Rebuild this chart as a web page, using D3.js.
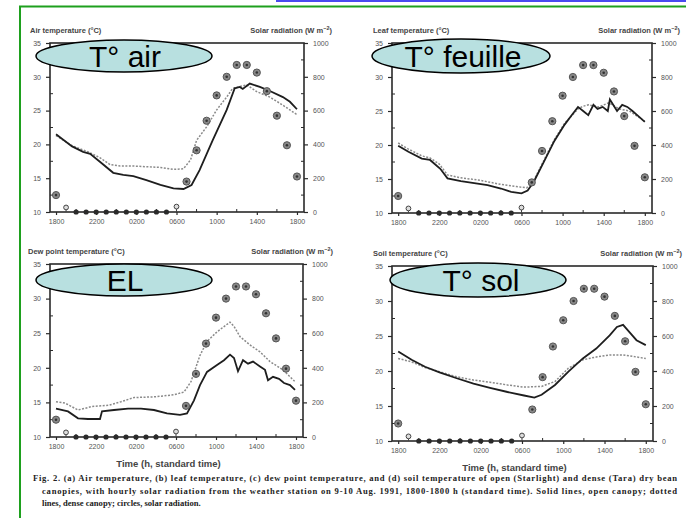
<!DOCTYPE html>
<html><head><meta charset="utf-8">
<script src="https://cdn.jsdelivr.net/npm/d3@7"></script>
<style>body{margin:0;background:#fff;}svg{display:block;}</style>
</head><body>
<svg id="c" width="686" height="518"></svg>
<script>
// ---------- DATA ----------
const xTickHours = [18, 22, 26, 30, 34, 38, 42];
const xTickLabels = ["1800", "2200", "0200", "0600", "1000", "1400", "1800"];
const tempTicks = [10, 15, 20, 25, 30, 35];
const radTicks = [0, 200, 400, 600, 800, 1000];
const solarHours = [18,19,20,21,22,23,24,25,26,27,28,29,30,31,32,33,34,35,36,37,38,39,40,41,42];
const solarValues = [100,15,0,0,0,0,0,0,0,0,0,0,20,180,365,540,690,800,870,870,825,715,570,395,210];

const airOpen = [[18,21.5],[19.6,19.7],[20.7,18.9],[21.4,18.6],[22.4,17.4],[23.7,15.8],[24.7,15.5],[25.7,15.3],[27,14.7],[28.4,14.0],[29.7,13.5],[30.7,13.4],[31.5,14.0],[32.3,16.2],[33.6,20.6],[35,25.1],[35.8,28.3],[36.3,28.5],[36.6,28.2],[37.3,29.0],[38.3,28.5],[39.3,27.9],[40.6,27.0],[41.3,26.3],[42,25.2]];
const airDense = [[18,21.3],[19.6,19.8],[21.2,18.9],[22.4,18.0],[23.4,17.0],[24.4,16.8],[25.7,16.8],[27,16.7],[28.4,16.6],[29.7,16.3],[30.7,16.4],[31.4,17.7],[32,20.6],[33,22.6],[34,25.1],[35,27.0],[35.6,28.3],[37,28.8],[38,27.8],[39.3,27.0],[40.6,25.8],[42,24.4]];
const leafOpen = [[18,19.9],[19,19.0],[20.3,18.0],[21.1,17.8],[22.1,16.5],[22.8,15.1],[24.1,14.7],[25.4,14.4],[26.7,14.1],[28,13.6],[29,13.1],[30,12.9],[30.6,13.3],[31.2,14.6],[32.2,17.6],[33.2,20.6],[34.2,23.0],[34.9,24.4],[35.5,25.6],[36,25.0],[36.5,24.4],[37,25.9],[37.4,25.3],[37.9,25.6],[38.4,25.0],[38.6,26.7],[39.3,25.0],[39.8,25.9],[40.3,25.6],[40.8,25.0],[41.4,24.2],[42,23.4]];
const leafDense = [[18,20.3],[19,19.4],[20.3,18.4],[21.1,18.1],[22,17.2],[22.8,15.6],[24,15.2],[26,14.8],[28,14.2],[29.5,13.9],[30.5,13.7],[31.2,14.8],[32.2,17.8],[33.2,20.8],[34.2,23.2],[35.5,25.3],[36,25.7],[36.5,25.9],[37.5,25.6],[38.5,26.2],[39.5,25.3],[40.5,25.0],[41.5,24.0],[42,23.5]];
const dewOpen = [[18,14.1],[19.2,13.7],[20.2,12.7],[21.2,12.6],[22.4,12.6],[22.6,13.7],[23.8,13.9],[25.2,14.1],[26.5,14.1],[27.8,13.9],[29.1,13.4],[30.4,13.2],[31.1,13.4],[31.8,15.3],[32.4,17.5],[33.1,19.4],[34.1,20.4],[34.8,21.1],[35.4,21.9],[35.8,21.4],[36.2,19.5],[36.7,21.1],[37.2,20.6],[37.7,20.9],[38.4,20.2],[38.9,19.7],[39.2,18.2],[39.7,18.7],[40.3,18.4],[40.8,17.8],[41.4,17.5],[41.9,16.8]];
const dewDense = [[18,15.1],[18.9,14.9],[20.2,13.9],[21.6,14.4],[23.3,14.6],[24.5,15.1],[25.8,15.7],[27.8,15.8],[29.8,16.1],[30.8,16.5],[31.5,18.0],[32.4,21.8],[33.1,23.8],[34.1,25.2],[35.4,26.6],[35.8,26.0],[36.4,24.5],[37.4,23.3],[38.4,22.3],[39.4,20.9],[40.7,19.7],[41.9,18.0]];
const soilOpen = [[18,22.8],[19.3,21.6],[20.6,20.6],[22,19.8],[23.6,19.0],[25.3,18.2],[26.9,17.6],[28.6,17.0],[30.2,16.5],[31.2,16.2],[31.9,16.6],[33.2,18.0],[34.5,19.9],[35.9,21.8],[37.2,23.2],[38.5,25.1],[39.2,26.3],[39.8,26.6],[40.5,25.4],[41.1,24.4],[42,23.7]];
const soilDense = [[18,21.8],[19.3,21.3],[20.6,20.5],[22,19.9],[23.6,19.2],[25.3,18.7],[26.9,18.4],[28.6,18.0],[30.2,17.7],[31.9,17.8],[33.2,18.5],[34.5,20.4],[35.9,21.6],[37.2,22.0],[38.5,22.3],[39.8,22.3],[41.1,22.0],[42,21.8]];

const panelTitles = ["Air temperature (°C)", "Leaf temperature (°C)", "Dew point temperature (°C)", "Soil temperature (°C)"];
const bubbleLabels = ["T° air", "T° feuille", "EL", "T° sol"];
const captionLines = [
  "Fig. 2.  (a) Air temperature, (b) leaf temperature, (c) dew point temperature, and (d) soil temperature of open (Starlight) and dense (Tara) dry bean",
  "canopies, with hourly solar radiation from the weather station on 9-10 Aug. 1991, 1800-1800 h (standard time). Solid lines, open canopy; dotted",
  "lines, dense canopy; circles, solar radiation."
];
const timeTitle = "Time (h, standard time)";

// ---------- LAYOUT ----------
const svg = d3.select("#c");
const ink = "#2a2a2a";
const font = "'Liberation Sans', Arial, sans-serif";

// frame lines
svg.append("line").attr("x1",276).attr("x2",686).attr("y1",1).attr("y2",1).attr("stroke","#4a4af0").attr("stroke-width",2);
svg.append("line").attr("x1",19).attr("x2",686).attr("y1",6.5).attr("y2",6.5).attr("stroke","#1ea01e").attr("stroke-width",2);
svg.append("line").attr("x1",20).attr("x2",20).attr("y1",6).attr("y2",518).attr("stroke","#1ea01e").attr("stroke-width",2);

const panels = [
  {l:50, r:304, t:43, b:212, open:airOpen, dense:airDense, titleY:33, titleX:30, radEnd:332, time:false,
   ell:{cx:124,cy:56,rx:88,ry:16,ty:67}, tx:125},
  {l:392, r:652, t:43, b:213, open:leafOpen, dense:leafDense, titleY:33, titleX:373, radEnd:680, time:false,
   ell:{cx:461,cy:56,rx:89,ry:17,ty:67}, tx:463},
  {l:50, r:303, t:264, b:437, open:dewOpen, dense:dewDense, titleY:254, titleX:28, radEnd:333, time:true,
   ell:{cx:124,cy:280,rx:88,ry:16,ty:291}, tx:125},
  {l:392, r:653, t:266, b:441, open:soilOpen, dense:soilDense, titleY:256, titleX:373, radEnd:682, time:true,
   ell:{cx:478,cy:280,rx:88,ry:17,ty:291}, tx:481}
];

panels.forEach((p, i) => {
  const g = svg.append("g");
  const x = d3.scaleLinear().domain([17.4, 42.7]).range([p.l, p.r]);
  const y = d3.scaleLinear().domain([10, 35]).range([p.b, p.t]);
  const yr = d3.scaleLinear().domain([0, 1000]).range([p.b, p.t]);

  // titles
  g.append("text").attr("x", p.titleX).attr("y", p.titleY).attr("font-family", font).attr("font-size", 7.5)
    .attr("font-weight","bold").attr("fill", "#444").text(panelTitles[i]);
  const rt = g.append("text").attr("x", p.radEnd).attr("y", p.titleY).attr("text-anchor","end").attr("font-family", font)
    .attr("font-size", 7.5).attr("font-weight","bold").attr("fill", "#444");
  rt.append("tspan").text("Solar radiation (W m");
  rt.append("tspan").attr("dy",-3).attr("font-size",5.5).text("−2");
  rt.append("tspan").attr("dy",3).text(")");

  // axes
  const leftAx = d3.axisLeft(y).tickValues(tempTicks).tickSize(4).tickPadding(5).tickFormat(d3.format("d"));
  const rightAx = d3.axisRight(yr).tickValues(radTicks).tickSize(4).tickPadding(5).tickFormat(d3.format("d"));
  const botAx = d3.axisBottom(x).tickValues(xTickHours).tickSize(3).tickPadding(4).tickFormat((d, k) => xTickLabels[k]);
  const styleAx = sel => {
    sel.select(".domain").remove();
    sel.selectAll(".tick line").attr("stroke", ink).attr("stroke-width", 1.2);
    sel.selectAll(".tick text").attr("font-family", font).attr("font-size", 7).attr("fill", "#555");
  };
  g.append("g").attr("transform", `translate(${p.l},0)`).call(leftAx).call(styleAx);
  g.append("g").attr("transform", `translate(${p.r},0)`).call(rightAx).call(styleAx);
  g.append("g").attr("transform", `translate(0,${p.b})`).call(botAx).call(styleAx);
  // minor ticks inward
  const minorT = d3.range(12.5, 35, 5);
  g.selectAll(null).data(minorT).enter().append("line")
    .attr("x1", p.l).attr("x2", p.l + 3).attr("y1", d => y(d)).attr("y2", d => y(d)).attr("stroke", ink).attr("stroke-width", 1);
  const minorR = d3.range(100, 1000, 200);
  g.selectAll(null).data(minorR).enter().append("line")
    .attr("x1", p.r).attr("x2", p.r - 3).attr("y1", d => yr(d)).attr("y2", d => yr(d)).attr("stroke", ink).attr("stroke-width", 1);
  const minorX = d3.range(20, 42, 4);
  g.selectAll(null).data(minorX).enter().append("line")
    .attr("x1", d => x(d)).attr("x2", d => x(d)).attr("y1", p.b).attr("y2", p.b - 3).attr("stroke", ink).attr("stroke-width", 1);

  // frame
  g.append("rect").attr("x", p.l).attr("y", p.t).attr("width", p.r - p.l).attr("height", p.b - p.t)
    .attr("fill", "none").attr("stroke", ink).attr("stroke-width", 1.6);

  // lines
  const line = d3.line().x(d => x(d[0])).y(d => y(d[1]));
  g.append("path").attr("d", line(p.dense)).attr("fill","none").attr("stroke","#8a8a8a").attr("stroke-width",1.5)
    .attr("stroke-dasharray","2,1.5");
  g.append("path").attr("d", line(p.open)).attr("fill","none").attr("stroke","#1e1e1e").attr("stroke-width",1.8);

  // solar circles
  const sol = solarHours.map((h, k) => ({h, v: solarValues[k]}));
  sol.forEach(s => {
    if (s.v === 0) {
      g.append("circle").attr("cx", x(s.h)).attr("cy", yr(s.v)).attr("r", 2.6).attr("fill", "#2a2a2a");
    } else if (s.v < 50) {
      g.append("line").attr("x1", x(s.h)).attr("x2", x(s.h)).attr("y1", yr(s.v)).attr("y2", p.b).attr("stroke", "#444").attr("stroke-width", 1);
      g.append("circle").attr("cx", x(s.h)).attr("cy", yr(s.v) - 2).attr("r", 2.4).attr("fill", "#ddd").attr("stroke", "#444").attr("stroke-width", 1);
    } else {
      g.append("circle").attr("cx", x(s.h)).attr("cy", yr(s.v)).attr("r", 3.6).attr("fill", "#888").attr("stroke", "#555").attr("stroke-width", 1);
      g.append("circle").attr("cx", x(s.h)).attr("cy", yr(s.v)).attr("r", 1.3).attr("fill", "#333");
    }
  });

  if (p.time) {
    g.append("text").attr("x", (p.l + p.r) / 2 - 8).attr("y", p.b + 30).attr("text-anchor","middle").attr("font-family", font)
      .attr("font-size", 9.5).attr("font-weight","bold").attr("fill","#444").text(timeTitle);
  }

  // bubble
  g.append("ellipse").attr("cx", p.ell.cx).attr("cy", p.ell.cy).attr("rx", p.ell.rx).attr("ry", p.ell.ry)
    .attr("fill", "#b8e0e0").attr("stroke", "#000").attr("stroke-width", 1.5);
  g.append("text").attr("x", p.tx).attr("y", p.ell.ty).attr("text-anchor","middle").attr("font-family", font)
    .attr("font-size", 30).attr("fill", "#000").text(bubbleLabels[i]);
});

// caption
const capY = [481, 493.5, 506];
captionLines.forEach((t, k) => {
  const tx = svg.append("text").attr("x", k === 0 ? 33 : 42).attr("y", capY[k])
    .attr("font-family", "'Liberation Serif', 'Times New Roman', serif").attr("font-size", 8.6).attr("font-weight","bold")
    .attr("fill", "#222").text(t);
  if (k < 2) tx.attr("textLength", k === 0 ? 644 : 635).attr("lengthAdjust", "spacing");
});
</script>
</body></html>
